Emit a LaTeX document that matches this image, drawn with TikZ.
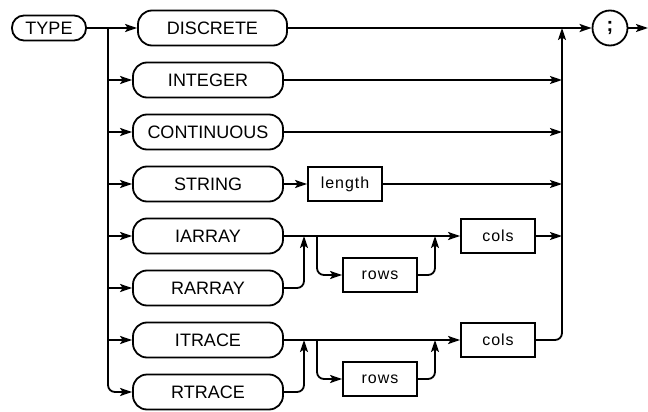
\documentclass[tikz,border=0pt]{standalone}
\usepackage{fontspec}
\setmainfont{Liberation Sans}
\newfontfamily\labelfamily[LetterSpace=6]{Liberation Sans}
\usetikzlibrary{arrows.meta,positioning}
\tikzset{
  keyword/.style={draw, line width=1.8pt, rounded corners=14pt, minimum width=150pt, minimum height=35pt, inner sep=0pt, font=\fontsize{18}{20}\selectfont},
  param/.style={draw, line width=1.8pt, minimum width=74pt, minimum height=34pt, inner sep=0pt, font=\labelfamily\fontsize{16}{18}\selectfont},
  flow/.style={line width=1.8pt, -{Stealth[length=12pt,width=8pt,inset=2.5pt]}},
  elbow/.style={flow, rounded corners=7pt}
}

\begin{document}
\begin{tikzpicture}[x=1pt,y=-1pt]
  \def\rowgap{52}
  \useasboundingbox (0,0) rectangle (648,412);

  \node[keyword, minimum width=74pt, minimum height=25pt, rounded corners=12pt] (type) at (49,28) {TYPE};
  \node[keyword, minimum width=149pt] (discrete) at (212.5,28) {DISCRETE};
  \foreach \i/\name/\label in {1/integer/INTEGER,2/continuous/CONTINUOUS,3/string/STRING,4/iarray/IARRAY,5/rarray/RARRAY,6/itrace/ITRACE,7/rtrace/RTRACE} {
    \node[keyword] (\name) at (208,28+\i*\rowgap) {\label};
  }

  \node[param] (length) at (345,184) {length};
  \foreach \g/\y in {A/236,B/340} {
    \node[param] (rows\g) at (380,\y+39) {rows};
    \node[param] (cols\g) at (498,\y) {cols};
    \coordinate (join\g) at (304,\y);
    \coordinate (fork\g) at (317,\y);
    \coordinate (merge\g) at (435,\y);
  }
  \node[draw, circle, line width=1.8pt, minimum size=35pt, inner sep=0pt, font=\bfseries\fontsize{20}{22}\selectfont] (semi) at (610,28) {;};

  \coordinate (split) at (108,28);
  \coordinate (rail) at (562,28);
  \coordinate (exit) at (648,28);

  \draw[flow] (type.east) -- (discrete.west);
  \draw[flow] (discrete.east) -- (semi.west);
  \draw[flow] (semi.east) -- (exit);
  \draw[elbow] (split) |- (rtrace.west);
  \foreach \name in {integer,continuous,string,iarray,rarray,itrace}
    \draw[flow] (split |- \name.west) -- (\name.west);
  \foreach \name in {integer,continuous,length,colsA}
    \draw[flow] (\name.east) -- (rail |- \name.east);
  \draw[flow] (string.east) -- (length.west);
  \draw[elbow] (colsB.east) -| (rail);
  \foreach \upperrow/\lowerrow/\g in {iarray/rarray/A,itrace/rtrace/B} {
    \draw[flow] (\upperrow.east) -- (cols\g.west);
    \draw[elbow] (\lowerrow.east) -| (join\g);
    \draw[elbow] (fork\g) |- (rows\g.west);
    \draw[elbow] (rows\g.east) -| (merge\g);
  }
\end{tikzpicture}
\end{document}
